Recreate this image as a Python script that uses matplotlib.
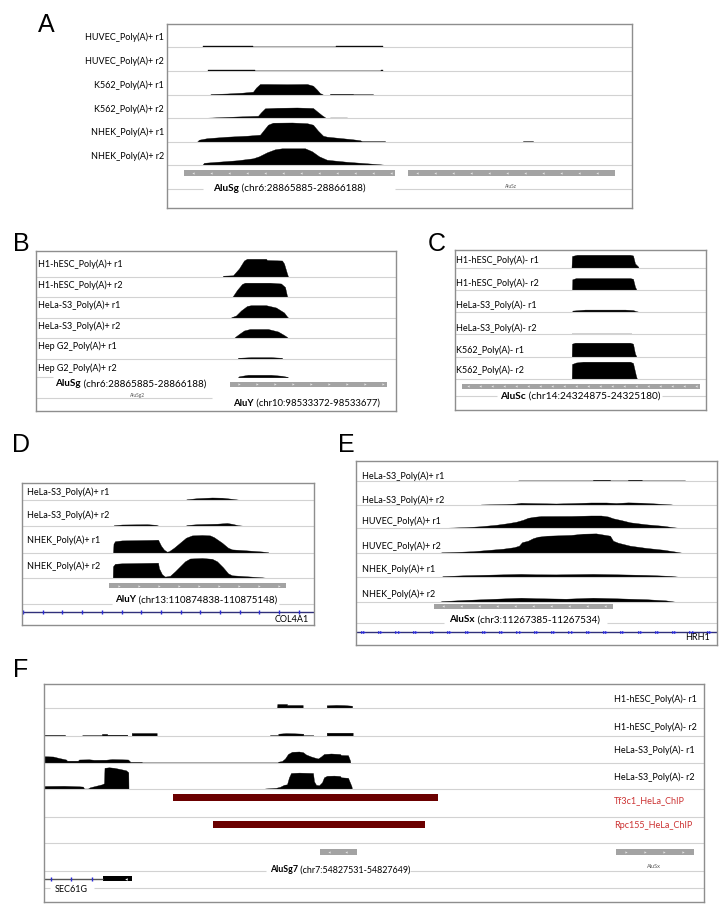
import numpy as np
import matplotlib
matplotlib.use("Agg")
import matplotlib.pyplot as plt

W, H = 722, 908
LABEL_FONT = ["Lato", "DejaVu Sans"]
LETTER_FONT = ["Liberation Sans", "DejaVu Sans"]
TRACK_FS = 6.5

# ---------------- Panel A data ----------------
A_tracks = ["HUVEC_Poly(A)+ r1", "HUVEC_Poly(A)+ r2", "K562_Poly(A)+ r1",
            "K562_Poly(A)+ r2", "NHEK_Poly(A)+ r1", "NHEK_Poly(A)+ r2"]
A_pos_HUVEC_r1 = [36, 36, 86, 86, 169, 169, 216, 216]
A_cov_HUVEC_r1 = [0, .6, .6, 0, 0, .6, .6, 0]
A_pos_HUVEC_r2 = [41, 41, 88, 88, 214, 214, 216, 216]
A_cov_HUVEC_r2 = [0, .6, .6, 0, 0, .8, .8, 0]
A_pos_K562_r1 = [43, 44, 60, 75, 86, 89, 93, 100, 120, 140, 146, 150, 153, 155, 156,
                 163, 163, 186, 186, 206, 206]
A_cov_K562_r1 = [0, .7, 1.2, 2, 3, 7, 10.7, 10.7, 10.5, 10.7, 9, 5, 1.5, .8, 0,
                 0, .9, .9, .5, .5, 0]
A_pos_K562_r2 = [35, 35, 50, 70, 91, 94, 98, 110, 130, 146, 150, 155, 158, 159,
                 163, 163, 180, 180, 335, 335, 362, 362, 370, 370, 388, 388]
A_cov_K562_r2 = [0, .4, 1, 1.8, 2.5, 6, 10, 10.5, 10.8, 10.3, 7, 3, 1, 0,
                 0, .8, .8, 0, 0, .5, .5, 0, 0, .5, .5, 0]
A_pos_NHEK_r1 = [30, 32, 40, 60, 80, 93, 97, 101, 106, 125, 140, 146, 151, 156, 160,
                 175, 185, 193, 195, 218, 218, 356, 356, 366, 366]
A_cov_NHEK_r1 = [0, 2, 3.5, 5, 6, 7, 12, 17, 19, 19.2, 18.5, 17, 11, 6, 5,
                 3.5, 2.5, 1.5, .6, .6, 0, 0, .6, .6, 0]
A_pos_NHEK_r2 = [35, 37, 50, 70, 86, 92, 100, 108, 115, 138, 145, 152, 160, 165,
                 180, 200, 213, 218, 218]
A_cov_NHEK_r2 = [0, 2.5, 3.5, 5, 7, 9, 13, 16, 17, 17, 14, 9, 5.5, 5,
                 3.5, 2, 1, .5, 0]
A_feature = ("AluSg", " (chr6:28865885-28866188)")

# ---------------- Panel B data ----------------
B_tracks = ["H1-hESC_Poly(A)+ r1", "H1-hESC_Poly(A)+ r2", "HeLa-S3_Poly(A)+ r1",
            "HeLa-S3_Poly(A)+ r2", "Hep G2_Poly(A)+ r1", "Hep G2_Poly(A)+ r2"]
B_pos_H1_r1 = [187, 187, 197, 203, 208, 211, 230, 231, 246, 248, 251, 252]
B_cov_H1_r1 = [0, .8, 1.2, 8, 16, 17.7, 17.7, 16.5, 16, 13, 3, 0]
B_pos_H1_r2 = [196, 197, 201, 206, 209, 234, 245, 249, 251, 252]
B_cov_H1_r2 = [0, 1, 7, 13, 14.3, 14.3, 13.5, 10, 1, 0]
B_pos_HeLa_r1 = [195, 196, 200, 205, 211, 215, 230, 240, 248, 251, 252]
B_cov_HeLa_r1 = [0, .5, 2, 7, 11.5, 12.3, 12.3, 10, 5, 1, 0]
B_pos_HeLa_r2 = [198, 199, 203, 208, 214, 232, 242, 248, 251, 252]
B_cov_HeLa_r2 = [0, 1, 4, 7.5, 9, 9, 6.5, 3, 1, 0]
B_pos_HepG2_r1 = [202, 202, 215, 235, 246, 246]
B_cov_HepG2_r1 = [0, .7, 1.3, 1.3, .7, 0]
B_pos_HepG2_r2 = [202, 203, 212, 235, 246, 251, 252]
B_cov_HepG2_r2 = [0, 1, 2.5, 2.5, 1.5, .5, 0]
B_feature_old = ("AluSg", " (chr6:28865885-28866188)")
B_feature = ("AluY", " (chr10:98533372-98533677)")

# ---------------- Panel C data ----------------
C_tracks = ["H1-hESC_Poly(A)- r1", "H1-hESC_Poly(A)- r2", "HeLa-S3_Poly(A)- r1",
            "HeLa-S3_Poly(A)- r2", "K562_Poly(A)- r1", "K562_Poly(A)- r2"]
C_pos_H1_r1 = [116.5, 117, 122, 175, 178, 180, 183, 183.5]
C_cov_H1_r1 = [0, 11.5, 12.7, 12.7, 12, 4, 1, 0]
C_pos_H1_r2 = [117, 117.3, 121, 175, 178, 180, 181.5]
C_cov_H1_r2 = [0, 10.5, 11.7, 11.7, 11, 3, 0]
C_pos_HeLa_r1 = [117, 117.5, 130, 170, 178, 181, 183, 183.5]
C_cov_HeLa_r1 = [0, 1.5, 2.5, 2.5, 2, 1, .5, 0]
C_pos_HeLa_r2 = [116.7, 116.7, 177.3, 177.3]
C_cov_HeLa_r2 = [0, .8, .8, 0]
C_pos_K562_r1 = [116.7, 117, 120, 175, 178, 180, 181.5]
C_cov_K562_r1 = [0, 13, 14, 14, 13, 3, 0]
C_pos_K562_r2 = [116.7, 117, 121, 128, 175, 178, 181, 182]
C_cov_K562_r2 = [0, 15, 16.5, 17.3, 17.3, 16, 3, 0]
C_feature = ("AluSc", " (chr14:24324875-24325180)")

# ---------------- Panel D data ----------------
D_tracks = ["HeLa-S3_Poly(A)+ r1", "HeLa-S3_Poly(A)+ r2", "NHEK_Poly(A)+ r1", "NHEK_Poly(A)+ r2"]
D_pos_HeLa_r1 = [163, 165, 175, 190, 200, 210, 216, 216.3]
D_cov_HeLa_r1 = [0, .8, 1.8, 2.5, 2.3, 1.2, .4, 0]
D_pos_HeLa_r2 = [91, 92, 100, 125, 134, 136, 136.3, 163, 165, 175, 195, 205, 210, 216, 220, 220]
D_cov_HeLa_r2 = [0, .8, 1.5, 1.8, 1.2, .5, 0, 0, 1, 1.8, 2.3, 3, 2.2, .8, .4, 0]
D_pos_NHEK_r1 = [91, 91.5, 93, 100, 130, 136, 139, 142, 145, 147, 152, 158, 164, 170, 180, 188,
                 192, 200, 206, 210, 225, 240, 246, 246.5]
D_cov_NHEK_r1 = [0, 9, 11.5, 12.3, 12.8, 13, 7, 3, 1, 1.5, 5, 10, 15, 17.3, 17.7, 17.3,
                 15.5, 10, 5, 3.3, 2.3, 1.2, .5, 0]
D_pos_NHEK_r2 = [90.7, 91, 93, 100, 130, 136, 137, 140, 143, 148, 153, 158, 163, 168, 180, 190,
                 195, 201, 206, 210, 225, 240, 245, 245.5]
D_cov_NHEK_r2 = [0, 12, 14.5, 15, 15.5, 15.6, 10, 4, 1.7, 2.5, 7, 12, 17, 19.8, 20.3, 19.5,
                 17, 11, 5, 3, 2, 1, .4, 0]
D_feature = ("AluY", " (chr13:110874838-110875148)")
D_gene = "COL4A1"

# ---------------- Panel E data ----------------
E_tracks = ["HeLa-S3_Poly(A)+ r1", "HeLa-S3_Poly(A)+ r2", "HUVEC_Poly(A)+ r1",
            "HUVEC_Poly(A)+ r2", "NHEK_Poly(A)+ r1", "NHEK_Poly(A)+ r2"]
E_pos_HeLa_r1 = [162, 162.3, 237, 237, 254, 254, 272, 272, 285.7, 285.7, 329, 329]
E_cov_HeLa_r1 = [0, .6, .6, 1.3, 1.3, .6, .6, 1.3, 1.3, .6, .6, 0]
E_pos_HeLa_r2 = [124, 125, 150, 160, 165, 172, 200, 220, 235, 250, 260, 272, 285, 300, 315, 319]
E_cov_HeLa_r2 = [0, .5, 1, 1.5, 2.2, 2, 1.5, 2, 2.5, 2.5, 2, 2.6, 2.3, 1.5, .6, 0]
E_pos_HUVEC_r1 = [82, 85, 110, 124, 140, 151, 160, 167, 172, 178, 185, 215, 235, 245, 252, 257,
                  266, 274, 290, 307, 318, 324, 325]
E_cov_HUVEC_r1 = [0, .4, 1.2, 2, 3.5, 5, 6.5, 8.5, 10.5, 11.5, 12.2, 12.3, 12.8, 12.8, 11.8, 10,
                  8, 6, 4, 2.5, 1, .3, 0]
E_pos_HUVEC_r2 = [84, 86, 100, 117, 135, 147, 158, 163, 166, 172, 177, 182, 191, 215, 227, 240,
                  248, 254, 257, 262, 274, 290, 307, 320, 325.7]
E_cov_HUVEC_r2 = [0, .4, .8, 1.5, 3, 4, 5.5, 7, 10.5, 12, 14.5, 16, 17, 17.8, 19, 19.3,
                  18, 17, 12, 10, 7, 4.8, 3, 1, 0]
E_pos_NHEK_r1 = [85.7, 87, 110, 140, 165, 180, 200, 237, 260, 290, 315, 322]
E_cov_NHEK_r1 = [0, .6, 1.5, 2.2, 2.8, 2.4, 2.3, 2.8, 2.4, 1.8, .8, 0]
E_pos_NHEK_r2 = [84, 86, 110, 140, 165, 180, 210, 237, 260, 290, 310, 319]
E_cov_NHEK_r2 = [0, .6, 1.8, 3, 4, 3.5, 3, 4, 3.4, 2.5, 1.3, 0]
E_feature = ("AluSx", " (chr3:11267385-11267534)")
E_gene = "HRH1"

# ---------------- Panel F data ----------------
F_tracks = ["H1-hESC_Poly(A)- r1", "H1-hESC_Poly(A)- r2", "HeLa-S3_Poly(A)- r1",
            "HeLa-S3_Poly(A)- r2", "Tf3c1_HeLa_ChIP", "Rpc155_HeLa_ChIP"]
F_pos_H1_r1 = [0, 0, 16, 16, 219, 219.3, 233, 233.3, 243, 243, 258.7, 258.7,
               275.3, 275.3, 282.7, 282.7, 292, 300, 308, 308.3]
F_cov_H1_r1 = [0, .6, .6, 0, 0, .6, .6, 4.3, 4.3, 3.3, 3.3, 0,
               0, .6, .6, 3, 3.4, 3.2, 2.6, 0]
F_pos_H1_r2 = [0, 0, 21, 21, 38.3, 38.3, 57.7, 58, 63, 63.3, 83.3, 83.3, 87.7, 87.7, 112.7, 112.7,
               226, 226, 234.3, 234.3, 242, 250, 259.3, 259.3, 269.3, 269.3, 282.7, 282.7, 308.7, 308.7]
F_cov_H1_r2 = [0, .8, .8, 0, 0, .6, .6, 1.8, 1.8, 1, 1, 0, 0, 2.7, 2.7, 0,
               0, .6, .6, 2, 2.6, 2.4, 2, .5, .5, 0, 0, 3, 3, 0]
F_pos_HeLa_r1 = [0, 0, 9, 15, 22, 23, 34, 35, 45, 50, 62, 68, 77, 84, 86, 86, 97.7, 97.7,
                 234, 234.3, 238, 241, 244, 248, 255, 259, 262, 267, 272, 274, 277, 280, 287,
                 296, 297, 304, 306, 306.3]
F_cov_HeLa_r1 = [0, 6.3, 6, 4.5, 3, 1.8, 1.8, 3, 3.2, 2.7, 2.8, 3.4, 3.2, 3, 1, .5, .5, 0,
                 0, .8, 1.5, 4, 8.5, 10.7, 11, 10.3, 8, 6, 4.5, 4, 6, 8.5, 9,
                 8.5, 7.5, 7.3, 2, 0]
F_pos_HeLa_r2 = [0, 0, 20, 35, 39, 40, 44, 46, 52, 58, 60, 60.5, 65, 70, 76, 82, 84.3, 84.5,
                 221, 221, 232, 236, 240, 243, 245, 247, 255, 262, 269, 270, 272, 275, 278,
                 280, 283, 290, 296, 297, 304, 307.5, 308]
F_cov_HeLa_r2 = [0, 3.3, 3.5, 3, 2.7, .8, .8, 2, 3.5, 5, 6, 21.5, 22, 21.5, 20.3, 19, 17, 0,
                 0, .8, 1.5, 2.5, 4.5, 5, 12, 16.3, 16.7, 16.5, 16.3, 8, 4.5, 4, 7,
                 12, 13.5, 13.7, 13.3, 12, 11.5, 3, 0]
F_chip_start = [129, 169]
F_chip_end = [394, 381]
F_feature = ("AluSg7", " (chr7:54827531-54827649)")
F_gene = "SEC61G"


# ---------------- helpers ----------------
fig = plt.figure(figsize=(W / 100, H / 100), dpi=100)
SEP_COLOR = "#d2d2d2"
BOX_COLOR = "#8e8e8e"


def make_panel(box):
    l, t, r, b = box
    ax = fig.add_axes([l / W, 1 - b / H, (r - l) / W, (b - t) / H])
    ax.set_xlim(0, r - l)
    ax.set_ylim(b - t, 0)
    ax.set_xticks([])
    ax.set_yticks([])
    for s in ax.spines.values():
        s.set_color(BOX_COLOR)
        s.set_linewidth(1.0)
    ax.patch.set_facecolor("white")
    return ax, r - l


def cov(ax, base, pos, val):
    pos = np.asarray(pos, float)
    val = np.asarray(val, float)
    ax.fill_between(pos, base, base - val, color="black", lw=0.25, edgecolor="black")


def hline(ax, y, x0, x1, color=SEP_COLOR, lw=0.8):
    ax.plot([x0, x1], [y, y], color=color, lw=lw, solid_capstyle="butt")


def gray_bar(ax, x0, x1, y, h, mk="<", spacing=18.0, color="#a3a3a3"):
    ax.fill_between([x0, x1], y - h / 2, y + h / 2, color=color, lw=0)
    xs = np.arange(x0 + spacing / 2, x1 - 2, spacing)
    ax.plot(xs, np.full_like(xs, y), ls="none", marker=mk, ms=1.6,
            color="#e6e6e6", mew=0)


def feature_label(ax, x, y, parts, size=7.2):
    t = ax.text(x, y, parts[0], fontweight="bold", fontsize=size, va="bottom",
                ha="left", family=LABEL_FONT)
    ax.annotate(parts[1], xy=(1, 0), xycoords=t, va="bottom", ha="left",
                fontsize=size, family=LABEL_FONT)
    return t


def letter(txt, x, y):
    fig.text(x / W, 1 - y / H, txt, fontsize=18, family=LETTER_FONT,
             ha="left", va="baseline")


# ---------------- Panel A ----------------
axA, wA = make_panel((167, 24, 632, 208))
A_seps = [22.7, 46.7, 70.7, 94.3, 117.7, 141.3]
A_data = [(A_pos_HUVEC_r1, A_cov_HUVEC_r1), (A_pos_HUVEC_r2, A_cov_HUVEC_r2),
          (A_pos_K562_r1, A_cov_K562_r1), (A_pos_K562_r2, A_cov_K562_r2),
          (A_pos_NHEK_r1, A_cov_NHEK_r1), (A_pos_NHEK_r2, A_cov_NHEK_r2)]
for name, base, (p, c) in zip(A_tracks, A_seps, A_data):
    hline(axA, base, 0, wA)
    cov(axA, base, p, c)
    axA.text(-3, base - 9, name, ha="right", va="center", fontsize=TRACK_FS,
             family=LABEL_FONT, clip_on=False)
gray_bar(axA, 17, 228, 148.7, 6)
gray_bar(axA, 241, 448, 148.7, 6)
hline(axA, 165, 0, 36)
hline(axA, 165, 228, wA)
feature_label(axA, 46, 169, A_feature, 7.2)
axA.text(344, 162, "AluSz", fontsize=3.5, color="#555555", ha="center", va="center",
         family=LABEL_FONT)

# ---------------- Panel B ----------------
axB, wB = make_panel((36, 251, 396, 411))
B_seps = [25.5, 46, 66.5, 87, 107.5, 126.3]
B_data = [(B_pos_H1_r1, B_cov_H1_r1), (B_pos_H1_r2, B_cov_H1_r2),
          (B_pos_HeLa_r1, B_cov_HeLa_r1), (B_pos_HeLa_r2, B_cov_HeLa_r2),
          (B_pos_HepG2_r1, B_cov_HepG2_r1), (B_pos_HepG2_r2, B_cov_HepG2_r2)]
for i, (name, base, (p, c)) in enumerate(zip(B_tracks, B_seps, B_data)):
    if i < 5:
        hline(axB, base, 0, wB)
    else:
        hline(axB, base, 0, 17)
    cov(axB, base, p, c)
    axB.text(2, base - (12 if i < 5 else 9.3), name, ha="left", va="center",
             fontsize=TRACK_FS, family=LABEL_FONT)
feature_label(axB, 19, 137.5, B_feature_old, 7.1)
gray_bar(axB, 194, 351, 133, 5, mk=">")
axB.text(102, 144, "AluSg2", fontsize=3.5, color="#555555", ha="center", va="center",
         family=LABEL_FONT)
hline(axB, 147, 0, 176)
feature_label(axB, 197, 157, B_feature, 6.8)

# ---------------- Panel C ----------------
axC, wC = make_panel((455, 250, 706, 410))
C_seps = [17.5, 39.8, 62.1, 84.4, 106.7, 129]
C_labels_y = [10.7, 33.3, 55.7, 78.3, 100.7, 120.7]
C_data = [(C_pos_H1_r1, C_cov_H1_r1), (C_pos_H1_r2, C_cov_H1_r2),
          (C_pos_HeLa_r1, C_cov_HeLa_r1), (C_pos_HeLa_r2, C_cov_HeLa_r2),
          (C_pos_K562_r1, C_cov_K562_r1), (C_pos_K562_r2, C_cov_K562_r2)]
for name, base, ly, (p, c) in zip(C_tracks, C_seps, C_labels_y, C_data):
    hline(axC, base, 0, wC)
    cov(axC, base, p, c)
    axC.text(1.5, ly, name, ha="left", va="center", fontsize=TRACK_FS, family=LABEL_FONT)
gray_bar(axC, 6.7, 245, 136, 5, mk="<", spacing=12)
hline(axC, 146, 0, 42)
hline(axC, 146, 207, wC)
feature_label(axC, 45, 150.5, C_feature, 7.25)

# ---------------- Panel D ----------------
axD, wD = make_panel((22, 483, 314, 625))
D_seps = [17, 43, 69.7, 95.3]
D_labels_y = [9.7, 32.7, 57, 83.7]
D_data = [(D_pos_HeLa_r1, D_cov_HeLa_r1), (D_pos_HeLa_r2, D_cov_HeLa_r2),
          (D_pos_NHEK_r1, D_cov_NHEK_r1), (D_pos_NHEK_r2, D_cov_NHEK_r2)]
for name, base, ly, (p, c) in zip(D_tracks, D_seps, D_labels_y, D_data):
    hline(axD, base, 0, wD)
    cov(axD, base, p, c)
    axD.text(4.7, ly, name, ha="left", va="center", fontsize=TRACK_FS, family=LABEL_FONT)
gray_bar(axD, 87.3, 264, 102.7, 5.5, mk=">", spacing=20)
hline(axD, 121, 0, 90)
hline(axD, 121, 257, wD)
feature_label(axD, 93, 121.5, D_feature, 7.0)
hline(axD, 129.3, 0, wD, color="#30307a", lw=1.0)
tx = np.arange(1, wD, 19.7)
axD.plot(tx, np.full_like(tx, 129.3), ls="none", marker="|", ms=3, mew=1.0, color="#2b2bd6")
axD.text(287, 137, D_gene, ha="right", va="center", fontsize=TRACK_FS, family=LABEL_FONT)

# ---------------- Panel E ----------------
axE, wE = make_panel((356, 461, 717, 645))
E_seps = [20, 44, 67.3, 91.7, 115.7, 140.7]
E_labels_y = [15, 39, 60.7, 85.7, 108.3, 133]
E_data = [(E_pos_HeLa_r1, E_cov_HeLa_r1), (E_pos_HeLa_r2, E_cov_HeLa_r2),
          (E_pos_HUVEC_r1, E_cov_HUVEC_r1), (E_pos_HUVEC_r2, E_cov_HUVEC_r2),
          (E_pos_NHEK_r1, E_cov_NHEK_r1), (E_pos_NHEK_r2, E_cov_NHEK_r2)]
for name, base, ly, (p, c) in zip(E_tracks, E_seps, E_labels_y, E_data):
    hline(axE, base, 0, wE)
    cov(axE, base, p, c)
    axE.text(5.7, ly, name, ha="left", va="center", fontsize=TRACK_FS, family=LABEL_FONT)
gray_bar(axE, 78, 257.3, 145, 5, mk="<", spacing=18)
hline(axE, 162.3, 0, 88)
hline(axE, 162.3, 251, wE)
feature_label(axE, 93.3, 163.5, E_feature, 7.1)
hline(axE, 170.7, 0, wE, color="#30307a", lw=1.0)
ax_ = np.arange(5.7, wE, 17.3)
axE.plot(ax_, np.full_like(ax_, 170.7), ls="none", marker=">", ms=2.2, mew=0, color="#2b2bd6")
axE.plot(ax_ + 2.2, np.full_like(ax_, 170.7), ls="none", marker=">", ms=2.2, mew=0, color="#2b2bd6")
axE.text(354, 176.3, E_gene, ha="right", va="center", fontsize=TRACK_FS, family=LABEL_FONT)

# ---------------- Panel F ----------------
axF, wF = make_panel((44, 684, 704, 902))
F_seps = [24.3, 51.7, 78.5, 105.3, 132.7, 159.3]
F_labels_y = [15, 43.7, 66.7, 93.7, 117, 142]
F_data = [(F_pos_H1_r1, F_cov_H1_r1), (F_pos_H1_r2, F_cov_H1_r2),
          (F_pos_HeLa_r1, F_cov_HeLa_r1), (F_pos_HeLa_r2, F_cov_HeLa_r2)]
for i, (name, base, ly) in enumerate(zip(F_tracks, F_seps, F_labels_y)):
    hline(axF, base, 0, wF)
    red = i >= 4
    if not red:
        p, c = F_data[i]
        cov(axF, base, p, c)
    else:
        top = F_seps[i - 1]
        axF.fill_between([F_chip_start[i - 4], F_chip_end[i - 4]], top + 4.5, top + 11.5,
                         color="#6b0000", lw=0)
    axF.text(570, ly, name, ha="left", va="center", fontsize=TRACK_FS, family=LABEL_FONT,
             color="#cc3333" if red else "black")
gray_bar(axF, 276, 313, 168, 6, mk="<", spacing=17)
gray_bar(axF, 572, 650, 168, 6, mk=">", spacing=19)
axF.text(610, 182, "AluSx", fontsize=4.0, color="#555555", ha="center", va="center",
         family=LABEL_FONT)
hline(axF, 186.5, 0, 222)
hline(axF, 186.5, 366, wF)
feature_label(axF, 226, 190.5, F_feature, 6.4)
hline(axF, 195, 0, 59, color="#555555", lw=1.0)
gx = np.array([7, 27, 48])
axF.plot(gx, np.full_like(gx, 195.0), ls="none", marker="|", ms=3, mew=1.0, color="#2b2bd6")
axF.fill_between([59, 88], 192.5, 197.5, color="black", lw=0)
axF.plot([82], [195], ls="none", marker="<", ms=1.8, color="white", mew=0)
hline(axF, 204, 0, 6)
hline(axF, 204, 50, wF)
axF.text(11, 206, F_gene, ha="left", va="center", fontsize=TRACK_FS, family=LABEL_FONT)

# ---------------- Panel letters ----------------
letter("A", 38, 32)
letter("B", 13, 251)
letter("C", 428, 251)
letter("D", 12, 452)
letter("E", 338, 452)
letter("F", 13, 677)

fig.savefig("out.png", dpi=100, facecolor="white")
